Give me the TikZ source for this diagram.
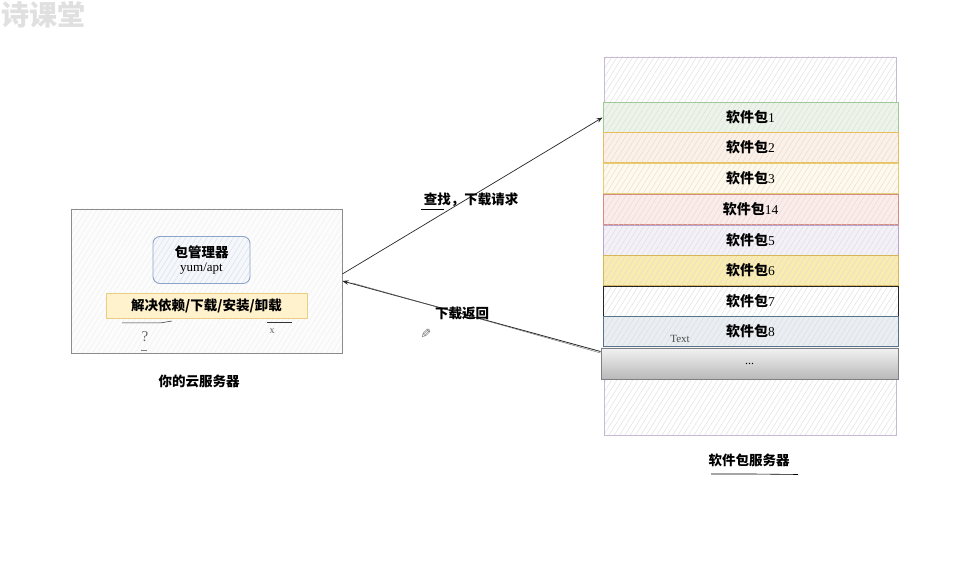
\documentclass[tikz,border=0pt]{standalone}
\usepackage{fontspec}
\setmainfont{Liberation Serif}
\newfontfamily\cjk{Noto Sans CJK SC}
\newfontfamily\symf{DejaVu Sans}
\usetikzlibrary{arrows.meta,patterns.meta}
\definecolor{hatchc}{HTML}{DADADA}
\definecolor{hatchl}{HTML}{ECECEC}
\definecolor{pmdraw}{RGB}{140,165,200}
\definecolor{pmfill}{RGB}{244,247,252}
\definecolor{bardraw}{RGB}{232,205,130}
\definecolor{barfill}{RGB}{255,242,204}
\definecolor{srvdraw}{RGB}{200,185,212}
\definecolor{fa}{RGB}{236,244,233}\definecolor{da}{RGB}{160,200,150}
\definecolor{fb}{RGB}{253,240,230}\definecolor{db}{RGB}{232,190,90}
\definecolor{fc}{RGB}{254,249,234}\definecolor{dc}{RGB}{232,205,110}
\definecolor{fd}{RGB}{252,236,233}\definecolor{dd}{RGB}{215,140,130}
\definecolor{fe}{RGB}{244,240,248}\definecolor{de}{RGB}{185,165,205}
\definecolor{ff}{RGB}{250,236,175}\definecolor{df}{RGB}{214,182,86}
\definecolor{fh}{RGB}{233,238,243}\definecolor{dh}{RGB}{90,115,140}
\definecolor{gtop}{RGB}{242,242,242}\definecolor{gbot}{RGB}{185,185,185}
\tikzset{
  hatch/.style={preaction={fill=#1},preaction={pattern={Lines[angle=58,distance=4.5pt,line width=0.35pt]},pattern color=hatchc}},
  lhatch/.style={preaction={fill=#1},preaction={pattern={Lines[angle=58,distance=4.5pt,line width=0.3pt]},pattern color=hatchl}},
  pkg/.style 2 args={draw=#2, line width=0.9pt, hatch=#1, minimum width=295pt, minimum height=30pt, inner sep=0pt,
     font=\fontsize{13.5}{15}\selectfont},
  cn/.style={font=\cjk\bfseries\fontsize{13.5}{16}\selectfont},
  conn/.style={draw=black!85, line width=0.7pt, -{Stealth[length=6pt,width=4.5pt]}},
}
\newcommand{\pk}[1]{{\cjk\bfseries\fontsize{14}{16}\selectfont 软件包}#1}
\begin{document}
\begin{tikzpicture}[x=1pt,y=-1pt]
\useasboundingbox (0,0) rectangle (962,569);
\clip (0,0) rectangle (962,569);
\fill[white] (0,0) rectangle (962,569);
% watermark
\node[anchor=west, text=black!12, font=\cjk\bfseries\fontsize{28}{30}\selectfont, inner sep=0pt] (wm) at (1,15) {诗课堂};

% left cloud server
\node[draw=black!45, line width=0.8pt, lhatch=black!1, minimum width=271pt, minimum height=144pt, inner sep=0pt] (cloud) at (206.5,281) {};
\node[draw=pmdraw, line width=0.9pt, rounded corners=7pt, hatch=pmfill,
      minimum width=97pt, minimum height=47pt, inner sep=0pt, align=center] (pm) at (201.5,260)
      {{\cjk\bfseries\fontsize{13.5}{16}\selectfont 包管理器}\\[2pt]{\fontsize{13}{14}\selectfont yum/apt}};
\node[draw=bardraw, line width=0.8pt, fill=barfill, minimum width=201pt, minimum height=25pt, inner sep=0pt, cn] (bar) at (206.5,305.5) {解决依赖/下载/安装/卸载};
% handwritten marks
\draw[black!80, line width=0.5pt] (122,323) -- (160,323) -- (172,321);
\node[text=black!60, font=\fontsize{15}{16}\selectfont, inner sep=0pt] (q) at (145,337) {?};
\draw[black!50, line width=0.5pt] (141,350) -- (147,350);
\draw[black!80, line width=0.5pt] (267,322) -- (292,322);
\node[text=black!60, font=\fontsize{10}{10}\selectfont, inner sep=0pt] (xm) at (272,331) {x};
\node[cn] (cloudlbl) at (199,381) {你的云服务器};

% right package server
\node[draw=srvdraw, line width=0.9pt, hatch=white, minimum width=292pt, minimum height=378pt, inner sep=0pt] (srv) at (750,246) {};
\node[pkg={fa}{da}] (p1) at (750.5,117.5) {\pk{1}};
\node[pkg={fb}{db}] (p2) at (750.5,147.5) {\pk{2}};
\node[pkg={fc}{dc}] (p3) at (750.5,178) {\pk{3}};
\node[pkg={fd}{dd}] (p4) at (750.5,209) {\pk{14}};
\node[pkg={fe}{de}] (p5) at (750.5,240) {\pk{5}};
\node[pkg={ff}{df}] (p6) at (750.5,270.5) {\pk{6}};
\node[pkg={white}{black!85}] (p7) at (750.5,301) {\pk{7}};
\node[pkg={fh}{dh}] (p8) at (750.5,331.5) {\pk{8}};
\node[text=black!70, font=\fontsize{11}{12}\selectfont, inner sep=0pt] (txt) at (680,339) {Text};
\node[draw=black!50, line width=0.9pt, top color=gtop, bottom color=gbot,
      minimum width=297pt, minimum height=31pt, inner sep=0pt, font=\fontsize{12}{14}\selectfont] (p9) at (749.5,363.5) {...};
\node[cn] (srvlbl) at (749,460) {软件包服务器};
\draw[black, line width=0.6pt] (711,474) -- (752,474) -- (798,474.5);

% connectors
\draw[conn] ([yshift=7pt]cloud.east) -- (p1.west);
\node[cn] (reqlbl) at (471,200) {查找，下载请求};
\draw[black, line width=0.6pt] (421,209) -- (444,209);
\draw[conn, line width=0.8pt] ([yshift=12pt]p9.west) -- (cloud.east);
\draw[black!60, line width=0.4pt] ([yshift=10.5pt]p9.west) -- ([xshift=10pt,yshift=-2pt]cloud.east);
\node[cn] (retlbl) at (462,313) {下载返回};
\node[text=black!55, font=\symf\fontsize{13}{13}\selectfont, inner sep=0pt, xscale=-1] (pen) at (426,334) {✎};
\end{tikzpicture}
\end{document}
